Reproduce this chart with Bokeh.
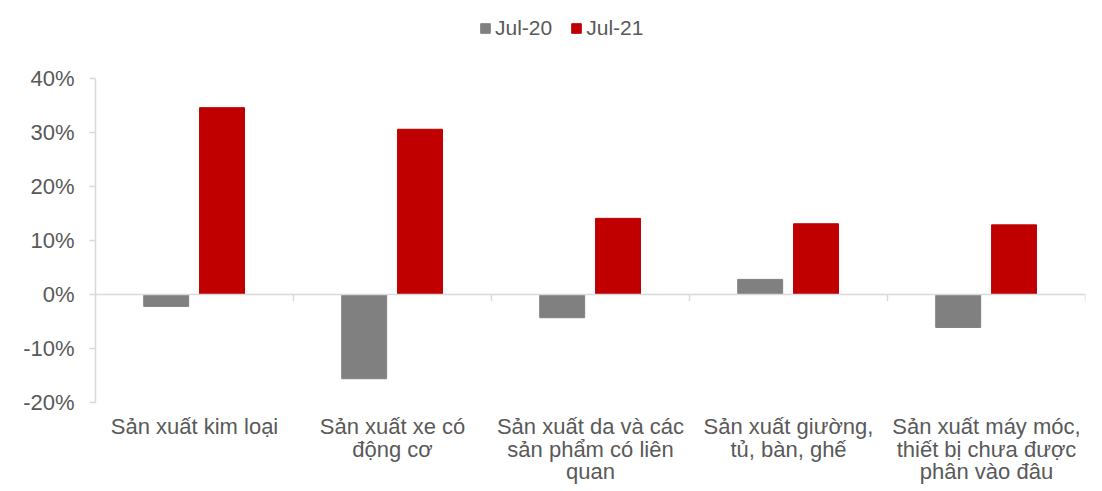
from bokeh.plotting import figure
from bokeh.models import ColumnDataSource, FactorRange, Range1d, Legend, LegendItem, PrintfTickFormatter, FixedTicker, Span
from bokeh.transform import dodge
from bokeh.embed import file_html
from bokeh.resources import INLINE
from bokeh.core.properties import value

categories = [
    "Sản xuất kim loại",
    "Sản xuất xe có\nđộng cơ",
    "Sản xuất da và các\nsản phẩm có liên\nquan",
    "Sản xuất giường,\ntủ, bàn, ghế",
    "Sản xuất máy móc,\nthiết bị chưa được\nphân vào đâu",
]
jul20 = [-2.2, -15.6, -4.3, 2.8, -6.1]
jul21 = [34.6, 30.6, 14.1, 13.1, 12.9]
series_names = ["Jul-20", "Jul-21"]
y_ticks = [-20, -10, 0, 10, 20, 30, 40]

FONT = "Liberation Sans"
TXT = "#595959"
AX = "#d9d9d9"

src = ColumnDataSource(dict(cat=categories, a=jul20, b=jul21))

# frame spans almost the whole picture; axis line limited to -20..40
p = figure(width=1102, height=491, x_range=FactorRange(*categories, range_padding=0),
           y_range=Range1d(-36.48, 53.52), output_backend="svg", toolbar_location=None,
           min_border_left=95, min_border_right=17, min_border_top=5, min_border_bottom=0)
p.outline_line_color = None
p.grid.visible = False
p.xaxis.visible = False

r1 = p.vbar(x=dodge("cat", -0.143, range=p.x_range), top="a", width=0.227, source=src,
            fill_color="#808080", line_color="#808080")
r2 = p.vbar(x=dodge("cat", 0.139, range=p.x_range), top="b", width=0.227, source=src,
            fill_color="#C00000", line_color="#C00000")

# zero line and category boundary ticks
p.add_layout(Span(location=0, dimension="width", line_color=AX, line_width=1.5))
p.segment(x0=[1, 2, 3, 4, 5], y0=[0] * 5, x1=[1, 2, 3, 4, 5], y1=[-1.2] * 5,
          line_color=AX, line_width=1.5)

# category labels below the plot
p.text(x=categories, y=[-22.2] * 5, text=categories, text_align="center",
       text_baseline="top", text_font=value(FONT), text_font_size="22px",
       text_color=TXT, text_line_height=0.9)

ya = p.yaxis[0]
ya.bounds = (-20, 40)
ya.ticker = FixedTicker(ticks=y_ticks)
ya.formatter = PrintfTickFormatter(format="%d%%")
ya.axis_line_color = AX
ya.axis_line_width = 1.5
ya.major_tick_line_color = AX
ya.major_tick_line_width = 1.5
ya.major_tick_in = 0
ya.major_tick_out = 6
ya.minor_tick_line_color = None
ya.major_label_text_font = FONT
ya.major_label_text_font_size = "22px"
ya.major_label_text_color = TXT
ya.major_label_standoff = 15

legend = Legend(items=[LegendItem(label=series_names[0], renderers=[r1]),
                       LegendItem(label=series_names[1], renderers=[r2])],
                orientation="horizontal", location=(384, 451),
                label_text_font=FONT, label_text_font_size="21px", label_text_color=TXT,
                glyph_width=12, glyph_height=12, label_standoff=4, spacing=18,
                background_fill_alpha=0, border_line_color=None, padding=4, margin=0)
p.add_layout(legend, "center")

open("out.html", "w").write(file_html(p, INLINE))
